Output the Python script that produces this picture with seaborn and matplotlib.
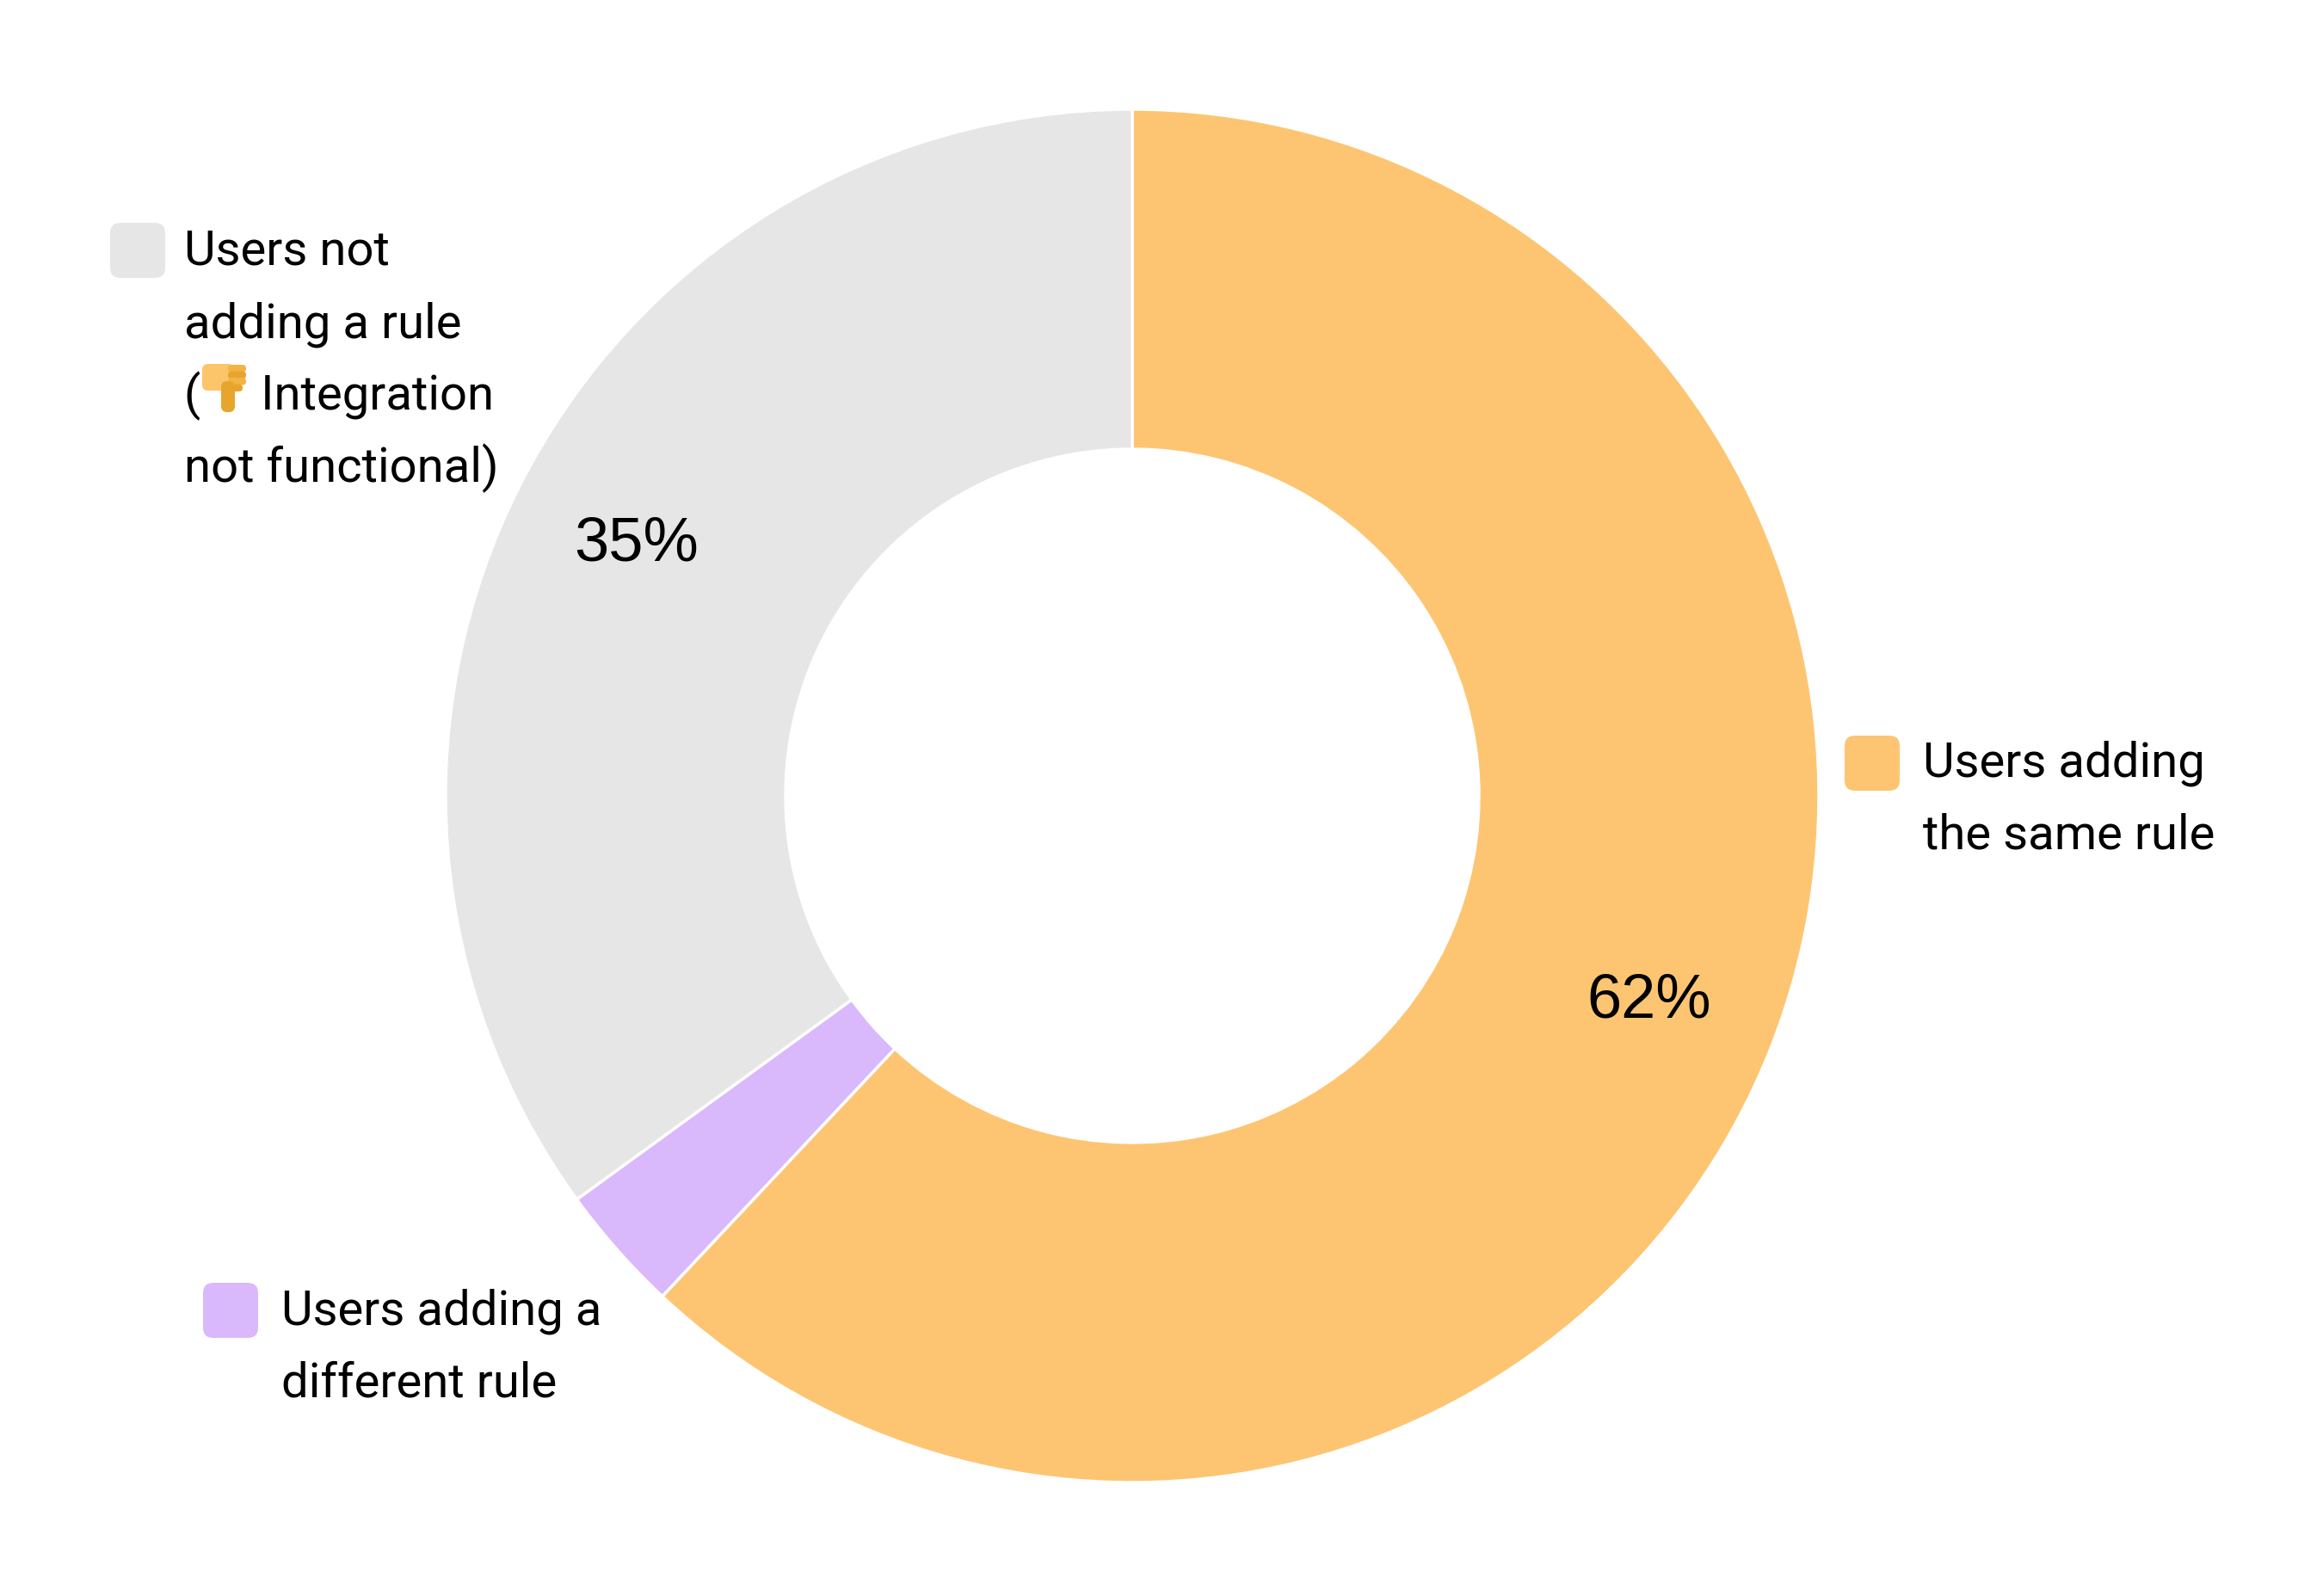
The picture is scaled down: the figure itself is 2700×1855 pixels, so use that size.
import matplotlib
matplotlib.use("Agg")
import matplotlib.pyplot as plt
import seaborn as sns
from matplotlib.patches import FancyBboxPatch

# ---- data ----
categories = ["Users adding\nthe same rule", "Users adding a\ndifferent rule",
              "Users not\nadding a rule\n(     Integration\nnot functional)"]
shares = [62, 3, 35]
colors = ["#FDC572", "#D9B8FC", "#E6E6E6"]

sns.set_theme(style="white")
plt.rcParams['font.family'] = ['Roboto', 'DejaVu Sans']

W, H = 2700, 1856
fig = plt.figure(figsize=(27, 18.56), dpi=100)
ax = fig.add_axes([0, 0, 1, 1])

cx, cy, R = 1316, H - 926, 798

def fmt(p):
    return f"{p:.0f}%" if p >= 5 else ""

wedges, texts, autotexts = ax.pie(
    shares, colors=colors, startangle=90, counterclock=False,
    center=(cx, cy), radius=R, autopct=fmt, pctdistance=0.81,
    wedgeprops=dict(width=395, edgecolor="white", linewidth=2.5),
    textprops=dict(fontsize=52, color="black", family=["Liberation Sans", "DejaVu Sans"]),
    frame=True,
)
ax.set_xlim(0, W)
ax.set_ylim(0, H)
ax.set_aspect("equal")
ax.axis("off")

LINE = 84  # px between baselines
# legend entries placed next to the ring (pixel positions from top)
legend_pos = [
    # swatch x0, swatch y0(top), text x, first baseline (from top)
    (2144, 856, 2235, 903),
    (236, 1492, 327, 1540),
    (128, 260, 214, 308),
]
for (sx, sy, tx, tb), lab, col in zip(legend_pos, categories, colors):
    box = FancyBboxPatch((sx + 12, H - sy - 64 + 12), 40, 40,
                         boxstyle="round,pad=12", facecolor=col,
                         edgecolor="none")
    ax.add_patch(box)
    for i, line in enumerate(lab.split("\n")):
        ax.text(tx, H - (tb + i * LINE), line, fontsize=40.5, va="baseline",
                ha="left", color="black", family=["Roboto", "DejaVu Sans"])

# 👎 (no installed font has this emoji) drawn as a small shape, top-origin px
def rr(x0, y0, w, h, r, col):
    ax.add_patch(FancyBboxPatch((x0 + r, H - y0 - h + r), w - 2 * r, h - 2 * r,
                                boxstyle=f"round,pad={r}", facecolor=col,
                                edgecolor="none", zorder=5))

light, dark = "#FDC56A", "#E8A52E"
rr(235, 424, 37, 31, 7, light)          # back of hand
for i in range(4):                        # folded fingers
    rr(265, 425 + i * 7.5, 21 - (i == 3) * 4, 8.5, 4, dark if i % 2 else "#F3B445")
rr(257, 444, 16, 36, 7, dark)             # thumb pointing down

fig.savefig("out.png", dpi=100, facecolor="white")
